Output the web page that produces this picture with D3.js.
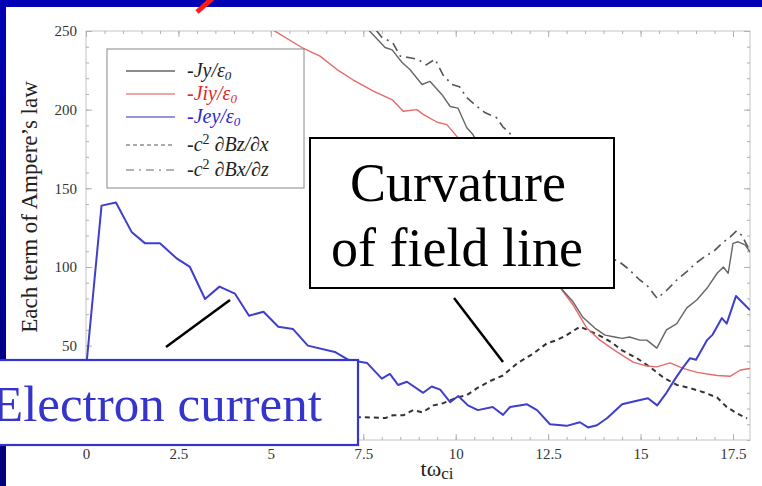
<!DOCTYPE html>
<html>
<head>
<meta charset="utf-8">
<script src="https://cdn.jsdelivr.net/npm/d3@7"></script>
<style>
  body { margin: 0; background: #fff; }
  svg { display: block; font-family: "Liberation Serif", "Times New Roman", serif; }
</style>
</head>
<body>
<div id="chart"></div>
<script>
// -Jy/eps0 (grey solid)
var jyT = [7.4, 7.63, 8.09, 8.28, 8.55, 8.76, 9.09, 9.3, 9.63, 9.85, 10.06, 10.3, 10.47, 11.0, 11.5, 12.0, 12.5, 12.9, 13.17, 13.44, 13.77, 14.04, 14.3, 14.5, 14.7, 14.98, 15.17, 15.44, 15.7, 15.98, 16.25, 16.52, 16.8, 17.07, 17.24, 17.37, 17.5, 17.64, 17.83, 17.96];
var jyV = [262, 251, 239.5, 238, 230, 225.5, 216, 218, 209.5, 202, 201, 188.5, 184, 160, 140, 120, 100, 85, 78, 68, 61, 56.7, 55.5, 54.6, 55.5, 53.5, 53.5, 48.4, 60, 64, 74, 79, 86.6, 96, 100, 96, 115, 116, 114, 109.5];

// -Jiy/eps0 (red)
var jiyT = [4.7, 5.03, 5.84, 6.33, 6.79, 7.22, 7.76, 8.3, 8.58, 8.95, 9.12, 9.5, 9.76, 10.03, 10.5, 11.0, 11.5, 12.0, 12.5, 12.82, 13.17, 13.55, 13.9, 14.36, 14.8, 15.17, 15.44, 15.8, 16.15, 16.53, 17.07, 17.42, 17.7, 17.96];
var jiyV = [256, 251, 239.5, 234, 225.5, 219, 212, 206, 199, 200, 197, 192, 190.5, 183, 170, 155, 138, 118, 100, 87, 76, 61, 53.5, 46, 39.5, 37, 36.5, 39, 35.5, 33, 31, 30.5, 34.5, 35.5];

// -Jey/eps0 (blue)
var jeyT = [0, 0.42, 0.81, 1.24, 1.6, 2.0, 2.45, 2.81, 3.22, 3.61, 4.03, 4.41, 4.8, 5.2, 5.6, 6.0, 6.73, 7.1, 7.6, 8.0, 8.22, 8.44, 8.68, 9.12, 9.35, 9.58, 9.85, 10.07, 10.33, 10.6, 11.0, 11.28, 11.47, 11.93, 12.2, 12.55, 13.0, 13.36, 13.58, 13.82, 14.1, 14.5, 14.9, 15.2, 15.45, 15.7, 15.94, 16.13, 16.34, 16.5, 16.8, 16.95, 17.2, 17.33, 17.58, 17.74, 17.96];
var jeyV = [35, 139, 141, 122, 115, 115, 105.5, 100, 79.6, 87.5, 83, 69, 71.5, 62, 60.5, 50, 46, 41, 39, 29, 32, 25, 27, 20, 24, 22, 14, 18, 12, 9, 11, 6, 11, 12.7, 9, 0, -1, 1.3, -2, -0.6, 4, 12.7, 15, 16.5, 12, 20, 29, 35.5, 42, 41, 53.5, 57, 67.5, 64, 81.5, 77.7, 72.6];

// -c^2 dBz/dx (black dashed)
var bzT = [0, 2.5, 5.0, 7.5, 8.1, 8.3, 8.58, 8.85, 9.1, 9.4, 9.66, 10.03, 10.3, 10.58, 10.93, 11.28, 11.66, 12.1, 12.47, 12.74, 13.0, 13.36, 13.69, 14.0, 14.25, 14.5, 14.9, 15.25, 15.6, 15.98, 16.34, 16.7, 17.07, 17.33, 17.6, 17.88];
var bzV = [0, 3, 4, 4.5, 4, 5.7, 5.7, 9, 7.6, 12, 13.4, 17, 18.5, 23, 27.5, 31, 38.7, 45, 51.5, 53.5, 56.7, 62, 58.6, 55, 51.5, 47, 42, 36.5, 30, 25, 23, 20.4, 17, 11, 7, 3.8];

// -c^2 dBx/dz (grey dash-dot)
var bxT = [7.6, 7.8, 8.0, 8.3, 8.5, 8.76, 8.98, 9.2, 9.44, 9.66, 9.9, 10.1, 10.3, 10.58, 10.8, 11.1, 11.28, 11.55, 12.0, 12.5, 13.0, 13.5, 14.0, 14.44, 14.66, 14.98, 15.17, 15.45, 15.7, 15.98, 16.25, 16.5, 16.8, 16.96, 17.2, 17.42, 17.6, 17.74, 17.9, 17.96];
var bxV = [262, 252, 246, 242.5, 234, 233, 232, 228.5, 232, 222, 216, 214.6, 207.6, 202, 198, 195, 189, 183, 165, 145, 128, 115, 108, 103, 99, 91.7, 88.5, 80, 85, 91.7, 97, 102.5, 107.6, 109.5, 115, 119, 123, 120, 112.7, 110];

var xTicks = [0, 2.5, 5, 7.5, 10, 12.5, 15, 17.5];
var yTicks = [50, 100, 150, 200, 250];

var svgWidth = 762;
var svgHeight = 486;

var margin = { top: 31, right: 12, bottom: 46, left: 86 };
var width = svgWidth - margin.left - margin.right;
var height = svgHeight - margin.top - margin.bottom;

var svg = d3.select("#chart").append("svg")
  .attr("width", svgWidth)
  .attr("height", svgHeight);

// slide frame (blue bands on top and left)
var grad = svg.append("defs").append("linearGradient")
  .attr("id", "slideBlue")
  .attr("x1", 0).attr("y1", 0).attr("x2", 0).attr("y2", 1);
grad.append("stop").attr("offset", "0%").attr("stop-color", "#0000b4");
grad.append("stop").attr("offset", "100%").attr("stop-color", "#00007a");

svg.append("rect").attr("x", 0).attr("y", 0).attr("width", svgWidth).attr("height", 7).attr("fill", "#0000b4");
svg.append("rect").attr("x", 0).attr("y", 0).attr("width", 6).attr("height", svgHeight).attr("fill", "url(#slideBlue)");

// red arrow tail poking in from above
svg.append("line")
  .attr("x1", 197).attr("y1", 12).attr("x2", 215).attr("y2", -4)
  .attr("stroke", "#ff1a1a").attr("stroke-width", 5);

var chartGroup = svg.append("g")
  .attr("transform", `translate(${margin.left}, ${margin.top})`);

var xScale = d3.scaleLinear().domain([0, 17.96]).range([0, width]);
var yScale = d3.scaleLinear().domain([-10, 250]).range([height, 0]);

chartGroup.append("clipPath").attr("id", "plotClip")
  .append("rect").attr("width", width).attr("height", height);

// frame
chartGroup.append("rect")
  .attr("width", width).attr("height", height)
  .attr("fill", "none").attr("stroke", "#c4c4c4").attr("stroke-width", 1);

// minor ticks on all four sides
var xMinor = d3.range(0, 18, 0.5);
var yMinor = d3.range(-10, 251, 10);

function styleAxis(g) {
  g.select(".domain").remove();
  g.selectAll("line").attr("stroke", "#b0b0b0");
  g.selectAll("text").attr("fill", "#333").style("font-size", "15px")
    .style("font-family", "'Liberation Serif', serif");
}

chartGroup.append("g").attr("transform", `translate(0, ${height})`)
  .call(d3.axisBottom(xScale).tickValues(xMinor).tickSize(-3).tickFormat(""))
  .call(styleAxis);
chartGroup.append("g")
  .call(d3.axisTop(xScale).tickValues(xMinor).tickSize(-3).tickFormat(""))
  .call(styleAxis);
chartGroup.append("g")
  .call(d3.axisLeft(yScale).tickValues(yMinor).tickSize(-3).tickFormat(""))
  .call(styleAxis);
chartGroup.append("g").attr("transform", `translate(${width}, 0)`)
  .call(d3.axisRight(yScale).tickValues(yMinor).tickSize(-3).tickFormat(""))
  .call(styleAxis);

// major ticks + labels
chartGroup.append("g").attr("transform", `translate(0, ${height})`)
  .call(d3.axisBottom(xScale).tickValues(xTicks).tickSizeInner(-6).tickSizeOuter(0).tickPadding(8).tickFormat(d3.format("")))
  .call(styleAxis);
chartGroup.append("g")
  .call(d3.axisLeft(yScale).tickValues(yTicks).tickSizeInner(-6).tickSizeOuter(0).tickPadding(9))
  .call(styleAxis);
chartGroup.append("g")
  .call(d3.axisTop(xScale).tickValues(xTicks).tickSize(-6).tickFormat(""))
  .call(styleAxis);
chartGroup.append("g").attr("transform", `translate(${width}, 0)`)
  .call(d3.axisRight(yScale).tickValues(yTicks).tickSize(-6).tickFormat(""))
  .call(styleAxis);

// series
function zip(ts, vs) {
  return ts.map((t, i) => ({ t: t, v: vs[i] }));
}

var line = d3.line()
  .x(d => xScale(d.t))
  .y(d => yScale(d.v));

var series = [
  { data: zip(bzT, bzV), color: "#333", width: 2, dash: "5,4" },
  { data: zip(bxT, bxV), color: "#555", width: 1.6, dash: "9,5,2,5" },
  { data: zip(jiyT, jiyV), color: "#e66a6a", width: 1.4, dash: null },
  { data: zip(jyT, jyV), color: "#666", width: 1.4, dash: null },
  { data: zip(jeyT, jeyV), color: "#3f3fcc", width: 2, dash: null }
];

var plotArea = chartGroup.append("g").attr("clip-path", "url(#plotClip)");

plotArea.selectAll("path.series")
  .data(series)
  .enter()
  .append("path")
  .attr("class", "series")
  .attr("d", d => line(d.data))
  .attr("fill", "none")
  .attr("stroke", d => d.color)
  .attr("stroke-width", d => d.width)
  .attr("stroke-dasharray", d => d.dash)
  .attr("stroke-linejoin", "round");

// legend
var legendItems = [
  { main: "-Jy/ε", sub: "0", sup: null, rest: null, color: "#222", lineColor: "#666", dash: null, lw: 1.3 },
  { main: "-Jiy/ε", sub: "0", sup: null, rest: null, color: "#e02828", lineColor: "#e88a8a", dash: null, lw: 1.3 },
  { main: "-Jey/ε", sub: "0", sup: null, rest: null, color: "#2a2ad0", lineColor: "#7070cc", dash: null, lw: 1.3 },
  { main: "-c", sub: null, sup: "2", rest: " ∂Bz/∂x", color: "#222", lineColor: "#555", dash: "4,3", lw: 1.2 },
  { main: "-c", sub: null, sup: "2", rest: " ∂Bx/∂z", color: "#222", lineColor: "#666", dash: "8,5,2,5", lw: 1.2 }
];
var legendY = [71, 94, 117, 145, 170];

var legend = svg.append("g");
legend.append("rect")
  .attr("x", 107).attr("y", 49).attr("width", 197).attr("height", 139)
  .attr("fill", "#fff").attr("stroke", "#888").attr("stroke-width", 1);

legendItems.forEach(function(item, i) {
  var y = legendY[i];
  legend.append("line")
    .attr("x1", 126).attr("x2", 175).attr("y1", y).attr("y2", y)
    .attr("stroke", item.lineColor).attr("stroke-width", item.lw)
    .attr("stroke-dasharray", item.dash);
  var txt = legend.append("text")
    .attr("x", 187).attr("y", y + 6)
    .attr("fill", item.color)
    .style("font-size", "20px")
    .style("font-style", "italic");
  txt.append("tspan").text(item.main);
  if (item.sub) {
    txt.append("tspan").attr("dy", 3).style("font-size", "13px").text(item.sub);
  }
  if (item.sup) {
    txt.append("tspan").attr("dy", -7).style("font-size", "14px").style("font-style", "normal").text(item.sup);
    txt.append("tspan").attr("dy", 7).text(item.rest);
  }
});

// axis titles
svg.append("text")
  .attr("transform", "translate(37, 207) rotate(-90)")
  .attr("text-anchor", "middle")
  .attr("fill", "#222")
  .style("font-size", "23px")
  .text("Each term of Ampere’s law");

var xTitle = svg.append("text")
  .attr("x", 437).attr("y", 476)
  .attr("text-anchor", "middle")
  .attr("fill", "#222")
  .style("font-size", "22px");
xTitle.append("tspan").text("tω");
xTitle.append("tspan").attr("dy", 3).style("font-size", "17px").text("ci");

// callouts
svg.append("line")
  .attr("x1", 454).attr("y1", 298).attr("x2", 503).attr("y2", 362)
  .attr("stroke", "#000").attr("stroke-width", 2.5);
svg.append("line")
  .attr("x1", 166).attr("y1", 347).attr("x2", 230).attr("y2", 300)
  .attr("stroke", "#000").attr("stroke-width", 2.5);

svg.append("rect")
  .attr("x", 310).attr("y", 138).attr("width", 304).attr("height", 150)
  .attr("fill", "#fff").attr("stroke", "#000").attr("stroke-width", 2);
svg.append("text")
  .attr("x", 458).attr("y", 201)
  .attr("text-anchor", "middle")
  .attr("fill", "#000")
  .style("font-size", "54px")
  .text("Curvature");
svg.append("text")
  .attr("x", 457).attr("y", 266)
  .attr("text-anchor", "middle")
  .attr("fill", "#000")
  .style("font-size", "54px")
  .text("of field line");

svg.append("rect")
  .attr("x", -10).attr("y", 360).attr("width", 368).attr("height", 85)
  .attr("fill", "#fff").attr("stroke", "#3535cc").attr("stroke-width", 2.2);
svg.append("text")
  .attr("x", -8).attr("y", 421)
  .attr("fill", "#3535cc")
  .style("font-size", "51px")
  .text("Electron current");
</script>
</body>
</html>
